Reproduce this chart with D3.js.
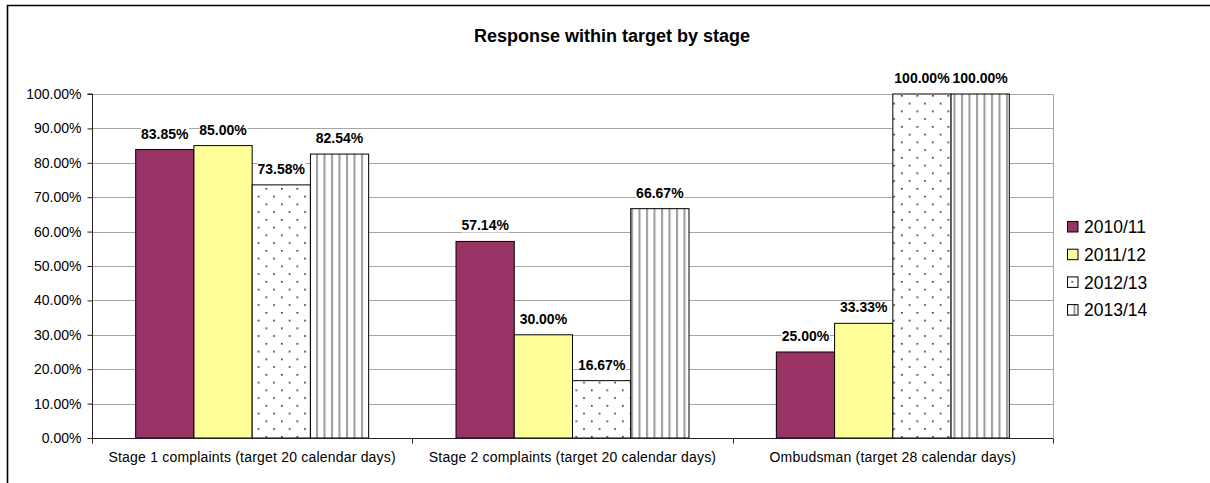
<!DOCTYPE html>
<html>
<head>
<meta charset="utf-8">
<script src="https://cdn.jsdelivr.net/npm/d3@7"></script>
<style>
  html, body { margin: 0; padding: 0; background: #fff; overflow: hidden; }
  svg { display: block; font-family: Arial, "Liberation Sans", sans-serif; }
</style>
</head>
<body>
<svg id="chart" width="1210" height="483"></svg>
<script>
const categories = [
  "Stage 1 complaints (target 20 calendar days)",
  "Stage 2 complaints (target 20 calendar days)",
  "Ombudsman (target 28 calendar days)"
];
const seriesNames = ["2010/11", "2011/12", "2012/13", "2013/14"];
const values2010 = [0.8385, 0.5714, 0.2500];
const values2011 = [0.8500, 0.3000, 0.3333];
const values2012 = [0.7358, 0.1667, 1.0000];
const values2013 = [0.8254, 0.6667, 1.0000];
const seriesValues = [values2010, values2011, values2012, values2013];
const yTicks = [0, 0.1, 0.2, 0.3, 0.4, 0.5, 0.6, 0.7, 0.8, 0.9, 1.0];
const title = "Response within target by stage";

const fills = ["#993366", "#FFFF99", "url(#dots)", "url(#vlines)"];

const svg = d3.select("#chart");
const defs = svg.append("defs");

// dotted pattern
const pd = defs.append("pattern").attr("id", "dots").attr("patternUnits", "userSpaceOnUse")
  .attr("width", 15.5).attr("height", 15.5);
pd.append("rect").attr("width", 15.5).attr("height", 15.5).attr("fill", "#fff");
pd.append("rect").attr("x", 2).attr("y", 2).attr("width", 1.6).attr("height", 1.6).attr("fill", "#222");
pd.append("rect").attr("x", 9.75).attr("y", 9.75).attr("width", 1.6).attr("height", 1.6).attr("fill", "#222");

// vertical lines pattern
const pv = defs.append("pattern").attr("id", "vlines").attr("patternUnits", "userSpaceOnUse")
  .attr("width", 7.5).attr("height", 10);
pv.append("rect").attr("width", 7.5).attr("height", 10).attr("fill", "#fff");
pv.append("rect").attr("x", 1).attr("y", 0).attr("width", 2).attr("height", 10).attr("fill", "#9a9a9a");

// outer frame (only left and top edges are visible)
svg.append("path").attr("d", "M7.5,483V5.5H1210")
  .attr("fill", "none").attr("stroke", "#000").attr("stroke-width", 1.6);

const pLeft = 92, pRight = 1053, pTop = 94, pBottom = 438;

const x = d3.scaleBand().domain(categories).range([pLeft, pRight]).padding(0);
const xs = d3.scaleBand().domain(seriesNames).range([0, x.bandwidth()]).paddingInner(0).paddingOuter(0.75);
const y = d3.scaleLinear().domain([0, 1]).range([pBottom, pTop]);

// gridlines
svg.append("g").selectAll("line").data(yTicks.filter(d => d > 0)).join("line")
  .attr("x1", pLeft).attr("x2", pRight)
  .attr("y1", d => Math.round(y(d)) + 0.5).attr("y2", d => Math.round(y(d)) + 0.5)
  .attr("stroke", "#a6a6a6").attr("stroke-width", 1);
// plot area right border
svg.append("line").attr("x1", pRight + 0.5).attr("x2", pRight + 0.5).attr("y1", y(1)).attr("y2", pBottom)
  .attr("stroke", "#a6a6a6");

// bars
seriesNames.forEach((s, si) => {
  svg.append("g").selectAll("rect").data(seriesValues[si]).join("rect")
    .attr("x", (d, i) => x(categories[i]) + xs(s))
    .attr("y", d => y(d))
    .attr("width", xs.bandwidth())
    .attr("height", d => pBottom - y(d))
    .attr("fill", fills[si])
    .attr("stroke", "#000").attr("stroke-width", 1);
});

// y axis
const yAxis = d3.axisLeft(y).tickValues(yTicks).tickFormat(d3.format(".2%")).tickSize(5).tickPadding(6);
const gy = svg.append("g").attr("transform", `translate(${pLeft + 0.5},0)`).call(yAxis);
gy.select(".domain").attr("stroke", "#222").attr("d", `M-5,${pTop}H0V${pBottom}`);
gy.selectAll(".tick line").attr("stroke", "#222");
gy.selectAll(".tick text").attr("font-size", 14).attr("fill", "#000")
  .attr("font-family", "Arial, 'Liberation Sans', sans-serif");

// x axis
const xAxis = d3.axisBottom(x).tickSize(0).tickPadding(14);
const gx = svg.append("g").attr("transform", `translate(0,${pBottom + 0.5})`).call(xAxis);
gx.select(".domain").attr("stroke", "#222").attr("d", `M${pLeft},0H${pRight}`);
gx.selectAll(".tick text").attr("font-size", 14).attr("fill", "#000").attr("letter-spacing", 0.2)
  .attr("font-family", "Arial, 'Liberation Sans', sans-serif").attr("dy", "0.71em");
// category boundary ticks
const bounds = categories.map(c => x(c)).concat([x.range()[1]]);
gx.append("g").selectAll("line").data(bounds).join("line")
  .attr("x1", d => Math.round(d) + 0.5).attr("x2", d => Math.round(d) + 0.5)
  .attr("y1", 0).attr("y2", 5).attr("stroke", "#222");

// data labels
const fmt = d3.format(".2%");
seriesNames.forEach((s, si) => {
  const g = svg.append("g");
  seriesValues[si].forEach((v, i) => {
    const cx = x(categories[i]) + xs(s) + xs.bandwidth() / 2;
    const t = g.append("text").attr("x", cx).attr("y", y(v) - 11)
      .attr("text-anchor", "middle").attr("font-size", 14).attr("font-weight", "bold")
      .attr("fill", "#000").text(fmt(v));
    const bb = t.node().getBBox();
    g.insert("rect", "text").attr("x", bb.x).attr("y", bb.y + 2).attr("width", bb.width).attr("height", bb.height - 3)
      .attr("fill", "#fff");
  });
});

// title
svg.append("text").attr("x", 612).attr("y", 41.5).attr("text-anchor", "middle")
  .attr("font-size", 18).attr("font-weight", "bold").attr("fill", "#000").text(title);

// legend
const leg = svg.append("g");
seriesNames.forEach((s, si) => {
  const ly = 227 + si * 27.7;
  leg.append("rect").attr("x", 1067.5).attr("y", ly - 5.5).attr("width", 10.5).attr("height", 10.5)
    .attr("fill", fills[si]).attr("stroke", "#000").attr("stroke-width", 1);
  leg.append("text").attr("x", 1084).attr("y", ly + 6.3).attr("font-size", 17.5).attr("fill", "#000").text(s);
});
</script>
</body>
</html>
